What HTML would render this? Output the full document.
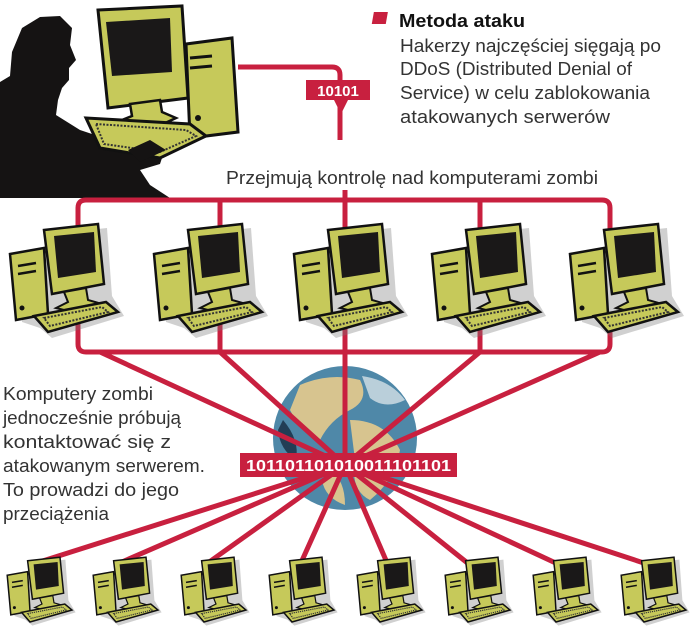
<!DOCTYPE html>
<html><head><meta charset="utf-8"><style>
html,body{margin:0;padding:0;background:#fff;}
svg{display:block;}
text{font-family:"Liberation Sans","DejaVu Sans",sans-serif;}
</style></head><body>
<svg width="694" height="640" viewBox="0 0 694 640" xmlns="http://www.w3.org/2000/svg">
<defs>
<g id="pc">
  <path d="M6 30 L40 24 L40 8 L95 2 L100 70 L112 90 L40 112 L28 102 L10 96Z" fill="#777" opacity="0.35" transform="translate(4,4)"/>
  <path d="M2 32 L36 26 L40 92 L8 98 Z" fill="#c6c95a" stroke="#111" stroke-width="2.5"/>
  <line x1="10" y1="44" x2="28" y2="41" stroke="#111" stroke-width="2.5"/>
  <line x1="10" y1="52" x2="28" y2="49" stroke="#111" stroke-width="2.5"/>
  <circle cx="14" cy="86" r="2.5" fill="#111"/>
  <path d="M36 8 L90 2 L96 62 L44 72 Z" fill="#c6c95a" stroke="#111" stroke-width="2.5"/>
  <path d="M46 14 L86 10 L88 50 L50 56 Z" fill="#1a1818"/>
  <path d="M56 70 L78 66 L80 78 L94 82 L72 92 L48 86 L60 80Z" fill="#c6c95a" stroke="#111" stroke-width="2"/>
  <path d="M26 94 L98 80 L110 90 L40 110 Z" fill="#c6c95a" stroke="#111" stroke-width="2.5"/>
  <path d="M36 96 L94 85 L100 90 L42 104 Z" fill="none" stroke="#333" stroke-width="2" stroke-dasharray="2 1.5"/>
</g>
</defs>

<!-- hacker silhouette -->
<path d="M0 82 L10 76 L12 52 L22 28 L40 17 L60 16 L72 28 L70 45 L76 60 L69 68 L69 80 L62 88 L58 100 L56 115 L80 130 L110 140 L135 145 L152 144 L164 152 L160 164 L140 170 L150 185 L170 198 L0 198Z" fill="#151313"/>
<!-- hacker computer -->
<path d="M186 44 L232 38 L238 132 L190 138 Z" fill="#c6c95a" stroke="#111" stroke-width="3"/>
<line x1="190" y1="58" x2="212" y2="56" stroke="#111" stroke-width="3"/>
<line x1="190" y1="68" x2="212" y2="66" stroke="#111" stroke-width="3"/>
<circle cx="198" cy="118" r="3" fill="#111"/>
<path d="M98 10 L182 6 L188 98 L108 108 Z" fill="#c6c95a" stroke="#111" stroke-width="3"/>
<path d="M106 22 L170 18 L172 72 L112 76 Z" fill="#1a1818"/>
<path d="M130 104 L160 100 L162 112 L176 118 L150 130 L112 124 L132 116Z" fill="#c6c95a" stroke="#111" stroke-width="2.5"/>
<path d="M86 118 L190 124 L206 136 L160 158 L100 148 Z" fill="#c6c95a" stroke="#111" stroke-width="3"/>
<path d="M96 124 L186 130 L196 136 L160 152 L104 144Z" fill="none" stroke="#333" stroke-width="2" stroke-dasharray="2 1.5"/>
<path d="M128 150 L150 140 L166 150 L140 162Z" fill="#151313"/>

<g stroke="#c8203f" stroke-width="5" fill="none" stroke-linejoin="round">
  <path d="M238 67 L332 67 Q340 67 340 75 L340 82"/>
  <line x1="340" y1="100" x2="340" y2="140"/>
  <path d="M78 235 L78 208 Q78 200 86 200 L602 200 Q610 200 610 208 L610 235"/>
  <line x1="220" y1="200" x2="220" y2="230"/>
  <line x1="345" y1="190" x2="345" y2="230"/>
  <line x1="480" y1="200" x2="480" y2="230"/>
  <path d="M78 320 L78 344 Q78 352 86 352 L602 352 Q610 352 610 344 L610 320"/>
  <line x1="220" y1="320" x2="220" y2="352"/>
  <line x1="345" y1="320" x2="345" y2="352"/>
  <line x1="480" y1="320" x2="480" y2="352"/>
</g>
<path d="M306 80 L370 80 L370 100 L348 100 L341 114 L334 100 L306 100 Z" fill="#c8203f"/>
<text x="338" y="96" font-size="15" font-weight="bold" fill="#fff" text-anchor="middle">10101</text>

<!-- globe -->
<circle cx="345" cy="438" r="72" fill="#4f88a8"/>
<path d="M300 385 Q330 372 360 380 Q370 400 350 410 Q330 420 320 440 Q300 430 290 410Z" fill="#d7c48f"/>
<path d="M350 420 Q385 420 400 450 Q395 480 370 500 Q350 490 355 460Z" fill="#d7c48f"/>
<path d="M330 470 Q345 480 345 505 Q325 498 322 480Z" fill="#d7c48f"/>
<path d="M283 420 Q300 440 296 460 Q280 450 278 430Z" fill="#223e55"/>
<path d="M362 376 Q390 380 405 400 Q385 410 370 398Z" fill="#e8eef0" opacity="0.7"/>

<g stroke="#c8203f" stroke-width="5">
  <line x1="100" y1="352" x2="345" y2="465"/>
  <line x1="220" y1="352" x2="345" y2="465"/>
  <line x1="345" y1="352" x2="345" y2="465"/>
  <line x1="480" y1="352" x2="345" y2="465"/>
  <line x1="600" y1="352" x2="345" y2="465"/>
  <line x1="30" y1="565" x2="345" y2="465"/>
  <line x1="115" y1="565" x2="345" y2="465"/>
  <line x1="205" y1="565" x2="345" y2="465"/>
  <line x1="300" y1="565" x2="345" y2="465"/>
  <line x1="388" y1="565" x2="345" y2="465"/>
  <line x1="470" y1="565" x2="345" y2="465"/>
  <line x1="560" y1="565" x2="345" y2="465"/>
  <line x1="650" y1="565" x2="345" y2="465"/>
</g>
<rect x="240" y="453" width="217" height="24" fill="#c8203f"/>
<text x="348.5" y="471" font-size="16" font-weight="bold" fill="#fff" text-anchor="middle" textLength="205" lengthAdjust="spacingAndGlyphs">101101101010011101101</text>

<use href="#pc" transform="translate(8,222)"/>
<use href="#pc" transform="translate(152,222)"/>
<use href="#pc" transform="translate(292,222)"/>
<use href="#pc" transform="translate(430,222)"/>
<use href="#pc" transform="translate(568,222)"/>
<use href="#pc" transform="translate(6,556) scale(0.6)"/>
<use href="#pc" transform="translate(92,556) scale(0.6)"/>
<use href="#pc" transform="translate(180,556) scale(0.6)"/>
<use href="#pc" transform="translate(268,556) scale(0.6)"/>
<use href="#pc" transform="translate(356,556) scale(0.6)"/>
<use href="#pc" transform="translate(444,556) scale(0.6)"/>
<use href="#pc" transform="translate(532,556) scale(0.6)"/>
<use href="#pc" transform="translate(620,556) scale(0.6)"/>

<rect x="373" y="12" width="14" height="12" fill="#c8203f" transform="skewX(-10) translate(3,0)"/>
<text x="399" y="27" font-size="18" font-weight="bold" fill="#111" textLength="126" lengthAdjust="spacingAndGlyphs">Metoda ataku</text>
<g font-size="18" fill="#333">
<text x="400" y="52" textLength="261" lengthAdjust="spacingAndGlyphs">Hakerzy najczęściej sięgają po</text>
<text x="400" y="75" textLength="232" lengthAdjust="spacingAndGlyphs">DDoS (Distributed Denial of</text>
<text x="400" y="99" textLength="250" lengthAdjust="spacingAndGlyphs">Service) w celu zablokowania</text>
<text x="400" y="123" textLength="210" lengthAdjust="spacingAndGlyphs">atakowanych serwerów</text>
<text x="226" y="184" textLength="372" lengthAdjust="spacingAndGlyphs">Przejmują kontrolę nad komputerami zombi</text>
<text x="3" y="400" textLength="150" lengthAdjust="spacingAndGlyphs">Komputery zombi</text>
<text x="3" y="424" textLength="178" lengthAdjust="spacingAndGlyphs">jednocześnie próbują</text>
<text x="3" y="448" textLength="168" lengthAdjust="spacingAndGlyphs">kontaktować się z</text>
<text x="3" y="472" textLength="202" lengthAdjust="spacingAndGlyphs">atakowanym serwerem.</text>
<text x="3" y="496" textLength="176" lengthAdjust="spacingAndGlyphs">To prowadzi do jego</text>
<text x="3" y="520" textLength="106" lengthAdjust="spacingAndGlyphs">przeciążenia</text>
</g>
</svg>
</body></html>
